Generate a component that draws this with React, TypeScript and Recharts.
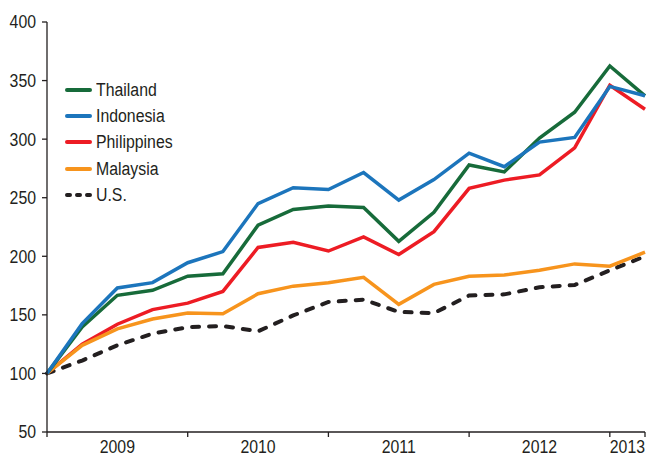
import { LineChart, Line, XAxis, YAxis, Legend } from 'recharts';

const FONT = "'Liberation Sans', Arial, sans-serif";
const INK = '#231f20';
const SQUEEZE = 0.88; // narrow the glyphs to look like a condensed face

const periods = [
  '2009 Q1', '2009 Q2', '2009 Q3', '2009 Q4',
  '2010 Q1', '2010 Q2', '2010 Q3', '2010 Q4',
  '2011 Q1', '2011 Q2', '2011 Q3', '2011 Q4',
  '2012 Q1', '2012 Q2', '2012 Q3', '2012 Q4',
  '2013 Q1', '2013 Q2',
];

const thailand = [100, 139.6, 166.7, 171, 183, 185, 226.5, 240, 243, 241.6, 212.8, 237.5, 278, 272, 301, 323, 362.5, 337];
const indonesia = [100, 142.5, 173, 177.5, 194.5, 204, 245, 258.5, 257, 271.5, 248, 265.5, 288, 276.5, 297.5, 301.5, 345, 337];
const philippines = [100, 125, 142, 154.5, 160, 170, 207.5, 212, 204.5, 216.5, 201.5, 221, 258, 265, 269.5, 292.5, 346, 325.5];
const malaysia = [100, 124, 138, 146.5, 151.5, 151, 168, 174.5, 177.5, 182, 159, 176, 183, 184, 188, 193.5, 191.5, 203.5];
const us = [100, 111, 124, 134, 139.5, 140.5, 136, 149.5, 161, 163, 152.5, 151.5, 166.5, 167.5, 173.5, 175.5, 188, 200];

const yearLabels = ['2009', '2010', '2011', '2012', '2013'];
const yearLabelPos = [2, 6, 10, 14, 16.5];
const yearBounds = [0, 4, 8, 12, 16, 17];
const yTicks = [50, 100, 150, 200, 250, 300, 350, 400];

const data = periods.map((p, i) => ({
  idx: i,
  period: p,
  thailand: thailand[i],
  indonesia: indonesia[i],
  philippines: philippines[i],
  malaysia: malaysia[i],
  us: us[i],
}));

// legend order (top to bottom)
const series = [
  { key: 'thailand', name: 'Thailand', color: '#176b3a', dash: undefined },
  { key: 'indonesia', name: 'Indonesia', color: '#1c75bc', dash: undefined },
  { key: 'philippines', name: 'Philippines', color: '#ed1c24', dash: undefined },
  { key: 'malaysia', name: 'Malaysia', color: '#f7941d', dash: undefined },
  { key: 'us', name: 'U.S.', color: INK, dash: '7 10' },
];

// draw order (bottom to top)
const drawOrder = ['us', 'philippines', 'malaysia', 'thailand', 'indonesia'];

const YearTick = (props: any) => {
  const { x, y, payload } = props;
  const i = yearLabelPos.indexOf(payload.value);
  if (i >= 0) {
    return (
      <g transform={`translate(${x},${y + 21}) scale(${SQUEEZE},1)`}>
        <text x={0} y={0} textAnchor="middle" fontSize={18} fill={INK} fontFamily={FONT}>
          {yearLabels[i]}
        </text>
      </g>
    );
  }
  return <line x1={x} x2={x} y1={y} y2={y + 5} stroke={INK} strokeWidth={1.3} />;
};

const ValueTick = (props: any) => {
  const { x, y, payload } = props;
  return (
    <g transform={`translate(${x},${y}) scale(${SQUEEZE},1)`}>
      <text x={0} y={0} dy="0.36em" textAnchor="end" fontSize={18} fill={INK} fontFamily={FONT}>
        {payload.value}
      </text>
    </g>
  );
};

const LegendBox = () => (
  <div style={{ fontFamily: FONT, fontSize: 18, color: INK }}>
    {series.map((s) => (
      <div key={s.key} style={{ display: 'flex', alignItems: 'center', height: 26.2, whiteSpace: 'nowrap' }}>
        <svg width={30} height={10} style={{ marginRight: 1 }}>
          <line
            x1={2}
            x2={25}
            y1={5}
            y2={5}
            stroke={s.color}
            strokeWidth={4}
            strokeLinecap="round"
            strokeDasharray={s.dash ? '3 7' : undefined}
          />
        </svg>
        <span style={{ lineHeight: '20px', display: 'inline-block', transform: `scaleX(${SQUEEZE})`, transformOrigin: 'left center' }}>
          {s.name}
        </span>
      </div>
    ))}
  </div>
);

export default function App() {
  return (
    <div style={{ position: 'absolute', left: 0, top: 0, width: 647, height: 457, background: '#fff' }}>
      <LineChart width={647} height={457} data={data} margin={{ top: 22, right: 2, bottom: 0, left: 0 }}>
        <XAxis
          dataKey="idx"
          type="number"
          domain={[0, 17]}
          ticks={[...yearBounds, ...yearLabelPos].sort((a, b) => a - b)}
          interval={0}
          tickLine={false}
          tickSize={0}
          tickMargin={0}
          height={25}
          axisLine={{ stroke: INK, strokeWidth: 1.3 }}
          tick={<YearTick />}
        />
        <YAxis
          domain={[50, 400]}
          ticks={yTicks}
          interval={0}
          width={47}
          tickSize={5}
          tickMargin={6}
          axisLine={{ stroke: INK, strokeWidth: 1.3 }}
          tickLine={{ stroke: INK, strokeWidth: 1.3 }}
          tick={<ValueTick />}
        />
        <Legend
          layout="vertical"
          align="center"
          verticalAlign="middle"
          wrapperStyle={{ left: 65, top: 77, width: 'auto' }}
          content={<LegendBox />}
        />
        {drawOrder.map((k) => {
          const s = series.find((x) => x.key === k)!;
          return (
            <Line
              key={k}
              type="linear"
              dataKey={k}
              name={s.name}
              stroke={s.color}
              strokeWidth={s.dash ? 4 : 3.5}
              strokeDasharray={s.dash}
              strokeLinecap={s.dash ? 'round' : 'butt'}
              dot={false}
              activeDot={false}
              isAnimationActive={false}
            />
          );
        })}
      </LineChart>
    </div>
  );
}
